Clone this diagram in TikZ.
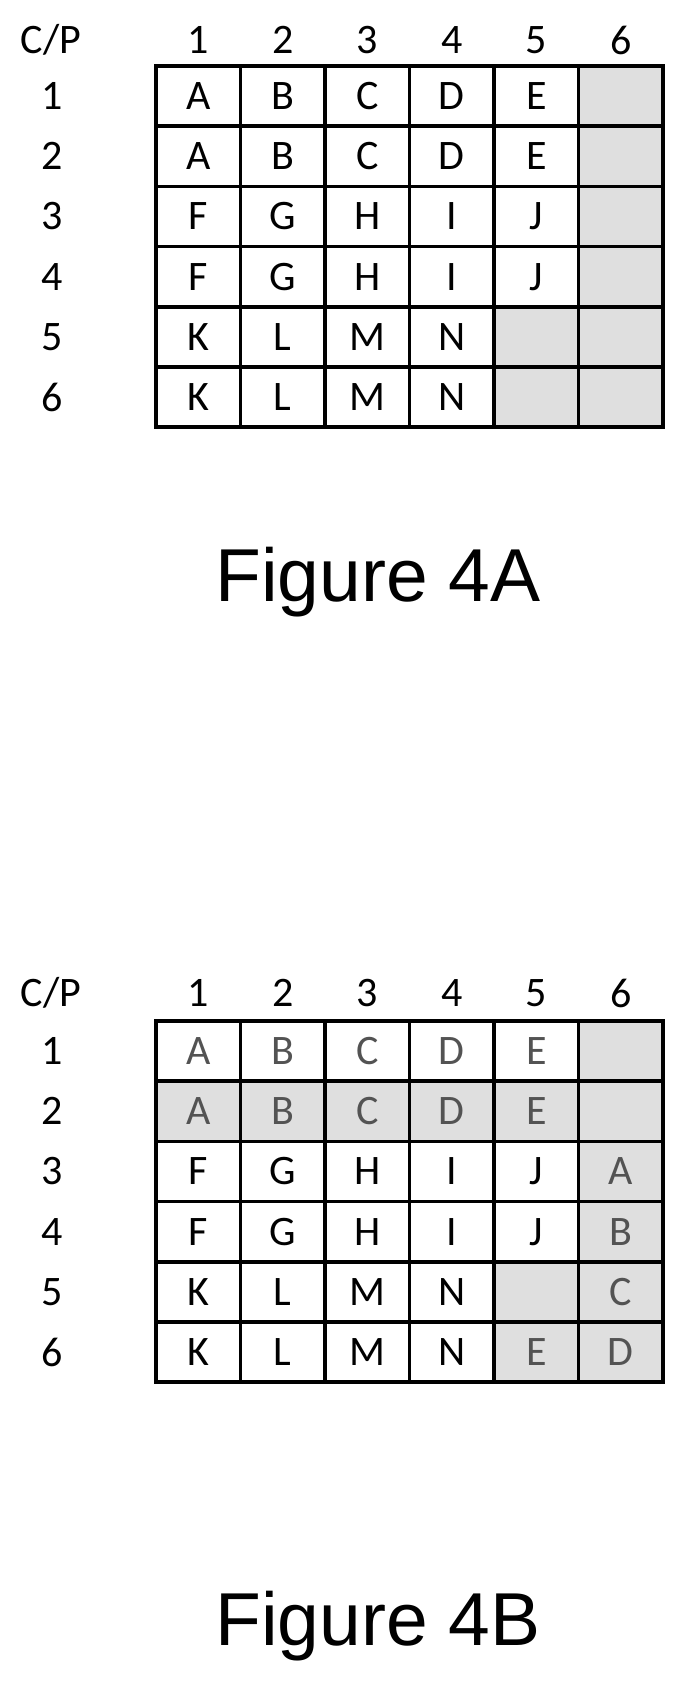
\documentclass[tikz,border=0pt]{standalone}
\usepackage{fontspec}
\setmainfont{Carlito}
\newfontfamily\capfont{Liberation Sans}
\usepackage{tikz}

\tikzset{
  cell/.style={draw=black, line width=3.5pt, minimum width=84.5pt, minimum height=60.2pt, inner sep=0pt, font=\fontsize{42}{42}\selectfont},
  shaded/.style={fill=gray!25},
  faint/.style={text=gray!65!black},
  lab/.style={font=\fontsize{42}{42}\selectfont, inner sep=0pt},
  caption/.style={font=\capfont\fontsize{75}{75}\selectfont, inner sep=0pt}
}

\begin{document}
\begin{tikzpicture}[x=1pt, y=-1pt]
    \useasboundingbox (0,0) rectangle (679,1681);
    % Figure 4A
    \node[lab] (ahead) at (51,40) {C/P};
    \foreach \c in {1,...,6}
        \node[lab] (ac\c) at (156+84.5*\c-42.25,40) {\c};
    \foreach \r in {1,...,6}
        \node[lab] (ar\r) at (52,66+60.2*\r-30.1) {\r};
    \foreach \r/\row in {1/{A,B,C,D,E,{}},2/{A,B,C,D,E,{}},3/{F,G,H,I,J,{}},4/{F,G,H,I,J,{}},5/{K,L,M,N,{},{}},6/{K,L,M,N,{},{}}} {
        \foreach \t [count=\c] in \row
            \node[cell] (a\r\c) at (156+84.5*\c-42.25,66+60.2*\r-30.1) {\t};
    }
    \foreach \n in {a16,a26,a36,a46,a56,a66,a55,a65}
        \node[cell, shaded] at (\n) {};
    \node[caption] (figa) at (378,582) {Figure 4A};

    % Figure 4B
    \node[lab] (bhead) at (51,993) {C/P};
    \foreach \c in {1,...,6}
        \node[lab] (bc\c) at (156+84.5*\c-42.25,993) {\c};
    \foreach \r in {1,...,6}
        \node[lab] (br\r) at (52,1021+60.2*\r-30.1) {\r};
    \foreach \r/\row in {3/{F,G,H,I,J},4/{F,G,H,I,J},5/{K,L,M,N},6/{K,L,M,N}} {
        \foreach \t [count=\c] in \row
            \node[cell] (b\r\c) at (156+84.5*\c-42.25,1021+60.2*\r-30.1) {\t};
    }
    \foreach \t [count=\c] in {A,B,C,D,E}
        \node[cell, faint] (b1\c) at (156+84.5*\c-42.25,1021+30.1) {\t};
    \node[cell, shaded] (b16) at (156+84.5*6-42.25,1021+30.1) {};
    \foreach \t [count=\c] in {A,B,C,D,E,{}}
        \node[cell, shaded, faint] (b2\c) at (156+84.5*\c-42.25,1021+60.2+30.1) {\t};
    \foreach \t [count=\i] in {A,B,C,D} {
        \pgfmathtruncatemacro{\r}{\i+2}
        \node[cell, shaded, faint] (b\r6) at (156+84.5*6-42.25,1021+60.2*\r-30.1) {\t};
    }
    \node[cell, shaded] (b55) at (156+84.5*5-42.25,1021+60.2*5-30.1) {};
    \node[cell, shaded, faint] (b65) at (156+84.5*5-42.25,1021+60.2*6-30.1) {E};
    \node[caption] (figb) at (378,1626) {Figure 4B};
\end{tikzpicture}
\end{document}
